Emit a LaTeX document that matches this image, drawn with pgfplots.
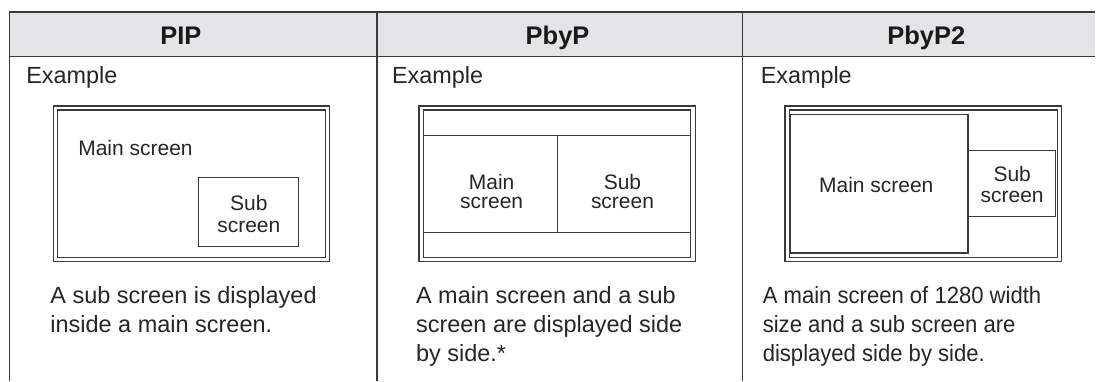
\documentclass[border=0pt]{standalone}
\usepackage{pgfplots}
\pgfplotsset{compat=1.18}
\usepackage{fontspec}
\setmainfont{Liberation Sans}
\newfontfamily\condensed[FakeStretch=0.94]{Liberation Sans}
\definecolor{line}{HTML}{3A3A3A}
\definecolor{headfill}{HTML}{E3E4E5}
\newcommand{\hd}{\fontsize{12.75}{15}\selectfont\bfseries}
\newcommand{\ex}{\fontsize{11.7}{14}\selectfont}
\newcommand{\ds}{\fontsize{11.75}{14}\selectfont}
\newcommand{\lb}{\fontsize{10.5}{12}\selectfont}
\begin{document}
\begin{tikzpicture}
\begin{axis}[
  scale only axis, width=548pt, height=190.5pt,
  xmin=0, xmax=1096, ymin=0, ymax=381, y dir=reverse,
  hide axis, clip=false,
]
% background / bounding box
\fill[white] (axis cs:0,0) rectangle (axis cs:1096,381);
% header band
\fill[headfill] (axis cs:9.5,12.3) rectangle (axis cs:1096,56.7);
% table lines
\draw[line, line width=0.9pt] (axis cs:9.5,12.3) -- (axis cs:1096,12.3);
\draw[line, line width=0.85pt] (axis cs:9.5,56.7) -- (axis cs:1096,56.7);
\draw[line, line width=0.85pt] (axis cs:9.5,12.3) -- (axis cs:9.5,381);
\draw[line, line width=0.85pt] (axis cs:377,12.3) -- (axis cs:377,381);
\draw[line, line width=0.85pt] (axis cs:743,12.3) -- (axis cs:743,381);
% headers
\node[anchor=base, inner sep=0, text=black!90] at (axis cs:181,45) {\hd PIP};
\node[anchor=base, inner sep=0, text=black!90] at (axis cs:558,45) {\hd PbyP};
\node[anchor=base, inner sep=0, text=black!90] at (axis cs:927,45) {\hd PbyP2};
% Example labels
\node[anchor=base west, inner sep=0, text=black!85] at (axis cs:26,84) {\ex Example};
\node[anchor=base west, inner sep=0, text=black!85] at (axis cs:392,84) {\ex Example};
\node[anchor=base west, inner sep=0, text=black!85] at (axis cs:761,84) {\ex Example};
% ---------- PIP ----------
\draw[line, line width=0.6pt] (axis cs:53.3,106) rectangle (axis cs:330,261.7);
\draw[line, line width=0.6pt] (axis cs:57.7,110) rectangle (axis cs:325.7,257.7);
\node[anchor=base west, inner sep=0, text=black!85] at (axis cs:78,156) {\lb Main screen};
\draw[line, line width=0.6pt] (axis cs:199,178) rectangle (axis cs:299,247);
\node[anchor=base, inner sep=0, text=black!85] at (axis cs:249,211) {\lb Sub};
\node[anchor=base, inner sep=0, text=black!85] at (axis cs:249,233) {\lb screen};
\node[anchor=base west, inner sep=0, text=black!85] at (axis cs:50,304) {\ds A sub screen is displayed};
\node[anchor=base west, inner sep=0, text=black!85] at (axis cs:50,333) {\ds inside a main screen.};
% ---------- PbyP ----------
\draw[line, line width=0.6pt] (axis cs:419.3,106) rectangle (axis cs:695.7,262);
\draw[line, line width=0.6pt] (axis cs:423.7,110) rectangle (axis cs:691.3,257.7);
\draw[line, line width=0.6pt] (axis cs:423.7,135.7) -- (axis cs:691.3,135.7);
\draw[line, line width=0.6pt] (axis cs:423.7,233) -- (axis cs:691.3,233);
\draw[line, line width=0.7pt] (axis cs:557.7,135.7) -- (axis cs:557.7,233);
\node[anchor=base, inner sep=0, text=black!85] at (axis cs:492,189.3) {\lb Main};
\node[anchor=base, inner sep=0, text=black!85] at (axis cs:492,208.3) {\lb screen};
\node[anchor=base, inner sep=0, text=black!85] at (axis cs:623,189.3) {\lb Sub};
\node[anchor=base, inner sep=0, text=black!85] at (axis cs:623,208.3) {\lb screen};
\node[anchor=base west, inner sep=0, text=black!85] at (axis cs:416,304) {\ds A main screen and a sub};
\node[anchor=base west, inner sep=0, text=black!85] at (axis cs:416,333) {\ds screen are displayed side};
\node[anchor=base west, inner sep=0, text=black!85] at (axis cs:416,362) {\ds by side.*};
% ---------- PbyP2 ----------
\draw[line, line width=0.6pt] (axis cs:785.7,106) rectangle (axis cs:1062.3,261.7);
\draw[line, line width=0.6pt] (axis cs:790,110) rectangle (axis cs:1058,257.7);
\draw[line, line width=0.6pt] (axis cs:791.3,114.3) rectangle (axis cs:968.7,253.3);
\draw[line, line width=0.6pt] (axis cs:969,151) rectangle (axis cs:1056,216.7);
\node[anchor=base, inner sep=0, text=black!85] at (axis cs:877,193) {\lb Main screen};
\node[anchor=base, inner sep=0, text=black!85] at (axis cs:1013,182) {\lb Sub};
\node[anchor=base, inner sep=0, text=black!85] at (axis cs:1013,202.7) {\lb screen};
\node[anchor=base west, inner sep=0, text=black!85] at (axis cs:763,304) {\ds\condensed A main screen of 1280 width};
\node[anchor=base west, inner sep=0, text=black!85] at (axis cs:763,333) {\ds\condensed size and a sub screen are};
\node[anchor=base west, inner sep=0, text=black!85] at (axis cs:763,362) {\ds\condensed displayed side by side.};
\end{axis}
\end{tikzpicture}
\end{document}
